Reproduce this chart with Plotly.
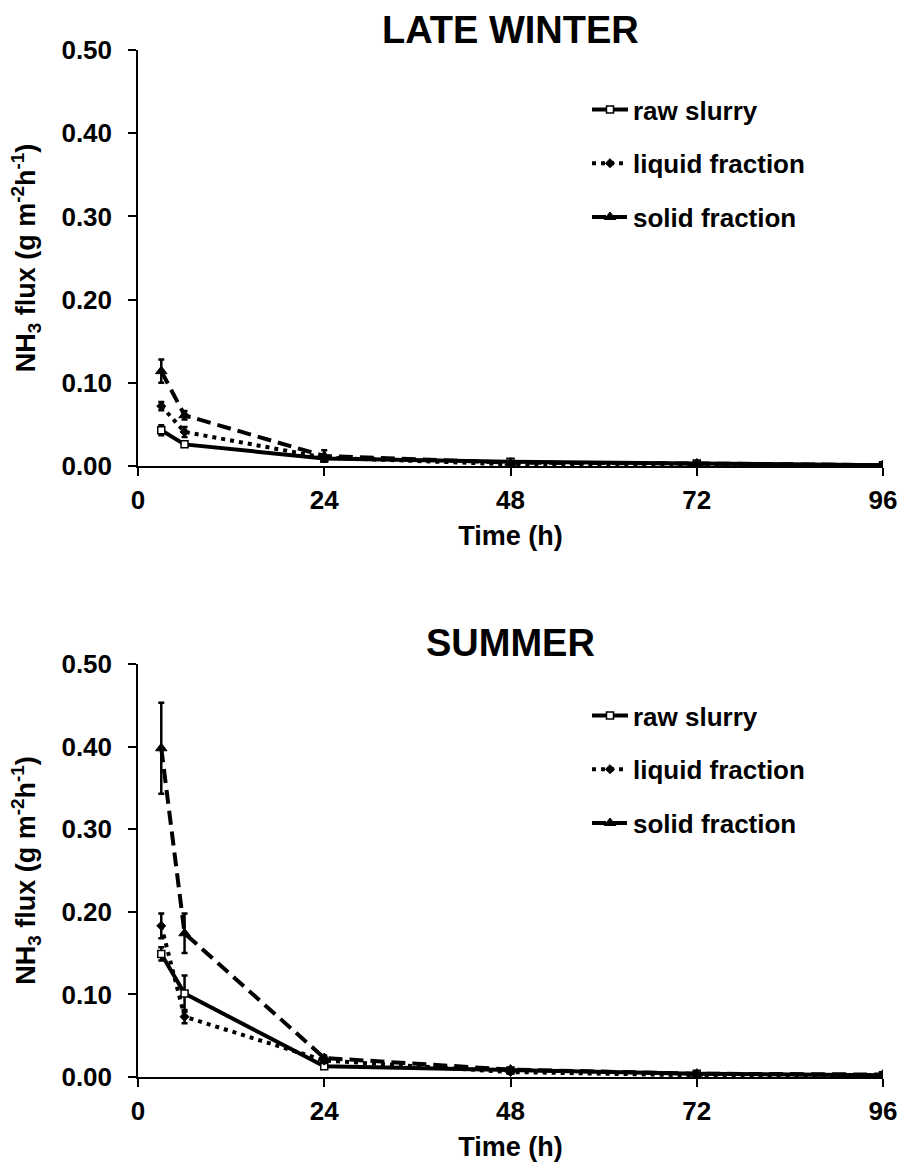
import plotly.graph_objects as go

times = [3, 6, 24, 48, 72, 96]

winter_raw = [0.043, 0.026, 0.009, 0.005, 0.003, 0.001]
winter_raw_err = [0.006, 0.003, 0.002, 0.001, 0.001, 0.001]
winter_liquid = [0.072, 0.041, 0.010, 0.002, 0.002, 0.001]
winter_liquid_err = [0.005, 0.006, 0.002, 0.001, 0.001, 0.001]
winter_solid = [0.114, 0.061, 0.012, 0.004, 0.003, 0.001]
winter_solid_err = [0.014, 0.005, 0.007, 0.002, 0.001, 0.001]

summer_raw = [0.149, 0.101, 0.013, 0.008, 0.004, 0.002]
summer_raw_err = [0.008, 0.022, 0.002, 0.002, 0.002, 0.001]
summer_liquid = [0.183, 0.073, 0.020, 0.006, 0.002, 0.002]
summer_liquid_err = [0.015, 0.008, 0.003, 0.002, 0.001, 0.001]
summer_solid = [0.398, 0.174, 0.023, 0.009, 0.004, 0.003]
summer_solid_err = [0.055, 0.024, 0.003, 0.002, 0.001, 0.001]

series_names = ["raw slurry", "liquid fraction", "solid fraction"]
x_ticks = [0, 24, 48, 72, 96]
y_ticks = [0.0, 0.1, 0.2, 0.3, 0.4, 0.5]
titles = ["LATE WINTER", "SUMMER"]

FONT = "Arial, Liberation Sans, sans-serif"
TXT = 26

styles = [
    dict(line=dict(color="black", width=4, dash="solid"),
         marker=dict(symbol="square", size=7, color="white", line=dict(color="black", width=1.5))),
    dict(line=dict(color="black", width=4, dash="4px,5px"),
         marker=dict(symbol="diamond", size=7, color="black", line=dict(color="black", width=1))),
    dict(line=dict(color="black", width=4, dash="14px,7px"),
         marker=dict(symbol="triangle-up", size=10, color="black", line=dict(color="black", width=1))),
]

fig = go.Figure()

panels = [
    ("x", "y", "legend", [winter_raw, winter_liquid, winter_solid],
     [winter_raw_err, winter_liquid_err, winter_solid_err]),
    ("x2", "y2", "legend2", [summer_raw, summer_liquid, summer_solid],
     [summer_raw_err, summer_liquid_err, summer_solid_err]),
]

for xa, ya, lg, vals, errs in panels:
    for i in range(3):
        fig.add_trace(go.Scatter(
            x=times, y=vals[i], name=series_names[i], mode="lines+markers",
            xaxis=xa, yaxis=ya, legend=lg, legendgroup=lg + str(i),
            line=styles[i]["line"], marker=styles[i]["marker"],
            error_y=dict(type="data", array=errs[i], visible=True,
                         color="black", thickness=2.5, width=3),
        ))

axis_common = dict(
    showline=True, linecolor="black", linewidth=1.5, mirror=False,
    ticks="outside", ticklen=8, tickwidth=1.5, tickcolor="black",
    showgrid=False, zeroline=False, automargin=False,
    tickfont=dict(family=FONT, size=TXT, color="black", weight="bold"),
)

plot_h = 1169 - 50 - 92
def paper_y(px):
    return (1077 - px) / plot_h
def paper_x(px):
    return (px - 138) / 745

top_dom = [paper_y(466), 1.0]
bot_dom = [0.0, paper_y(664)]

ytitle = "NH<sub>3</sub> flux (g m<sup>-2</sup>h<sup>-1</sup>)"
title_font = dict(family=FONT, size=27, color="black", weight="bold")

fig.update_layout(
    width=899, height=1169,
    paper_bgcolor="white", plot_bgcolor="white",
    margin=dict(l=138, r=16, t=50, b=92),
    showlegend=True,
    xaxis=dict(domain=[0, 1], range=[0, 96], tickvals=x_ticks, anchor="y",
               ticklabelstandoff=2,
               title=dict(text="Time (h)", font=title_font, standoff=12),
               **axis_common),
    yaxis=dict(domain=top_dom, range=[0, 0.5], tickvals=y_ticks, tickformat=".2f", anchor="x",
               ticklabelstandoff=11,
               title=dict(text=ytitle, font=title_font, standoff=18),
               **axis_common),
    xaxis2=dict(domain=[0, 1], range=[0, 96], tickvals=x_ticks, anchor="y2",
                ticklabelstandoff=2,
                title=dict(text="Time (h)", font=title_font, standoff=12),
                **axis_common),
    yaxis2=dict(domain=bot_dom, range=[0, 0.5], tickvals=y_ticks, tickformat=".2f", anchor="x2",
                ticklabelstandoff=11,
                title=dict(text=ytitle, font=title_font, standoff=18),
                **axis_common),
    legend=dict(x=paper_x(587), y=paper_y(86), xanchor="left", yanchor="top",
                bgcolor="rgba(0,0,0,0)",
                font=dict(family=FONT, size=TXT, color="black", weight="bold"),
                tracegroupgap=17, traceorder="grouped", itemwidth=36),
    legend2=dict(x=paper_x(587), y=paper_y(692), xanchor="left", yanchor="top",
                 bgcolor="rgba(0,0,0,0)",
                 font=dict(family=FONT, size=TXT, color="black", weight="bold"),
                 tracegroupgap=17, traceorder="grouped", itemwidth=36),
)

fig.add_annotation(text=titles[0], x=0.5, xref="paper", y=paper_y(30), yref="paper",
                   showarrow=False, yanchor="middle",
                   font=dict(family=FONT, size=38, color="black", weight="bold"))
fig.add_annotation(text=titles[1], x=0.5, xref="paper", y=paper_y(643), yref="paper",
                   showarrow=False, yanchor="middle",
                   font=dict(family=FONT, size=38, color="black", weight="bold"))

fig.write_html(
    "out.html",
    config={"displayModeBar": False},
    post_script="document.body.style.margin='0';document.body.style.overflow='hidden';",
)
